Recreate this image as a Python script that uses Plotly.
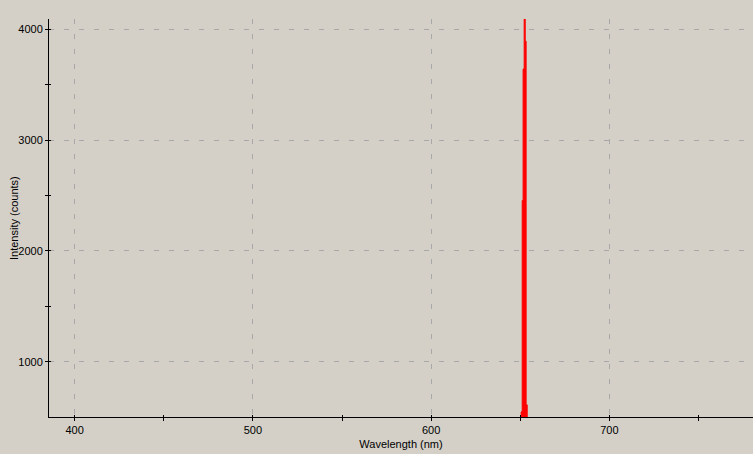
import plotly.graph_objects as go

# Data (spectrum, counts below 500 are off-scale)
wavelength_nm = [385.0, 650.5, 651.1, 651.6, 652.2, 652.8, 653.3, 653.9, 781.0]
intensity_counts = [480, 547, 2455, 3643, 4095, 3895, 610, 480, 480]

x_major_ticks = [400, 500, 600, 700]
y_major_ticks = [1000, 2000, 3000, 4000]

BG = "#d4d0c8"
GRID = "#a8a8a8"
FONT = "Liberation Sans"

fig = go.Figure()
fig.add_trace(go.Scatter(
    x=wavelength_nm, y=intensity_counts,
    mode="lines", line=dict(color="#ff0000", width=1, shape="hv"),
    fill="tozeroy", fillcolor="#ff0000", showlegend=False, hoverinfo="skip",
))
# empty trace to host the overlay axes (inner half of crossing ticks)
fig.add_trace(go.Scatter(x=[None], y=[None], xaxis="x2", yaxis="y2", showlegend=False))

xr = [385.6, 780.6]
yr = [500, 4095]

common_font = dict(family=FONT, size=11, color="black")

fig.update_layout(
    width=753, height=454,
    margin=dict(l=49, r=0, t=19, b=37),
    paper_bgcolor=BG, plot_bgcolor=BG,
    font=dict(family=FONT, size=11, color="black"),
    xaxis=dict(
        range=xr, tickvals=x_major_ticks, ticks="outside", ticklen=3, tickwidth=1,
        tickcolor="black", showline=True, linecolor="black", linewidth=1,
        showgrid=True, gridcolor=GRID, griddash="5px,10px", gridwidth=1,
        zeroline=False, tickfont=common_font,
        minor=dict(tickvals=[450, 550, 650, 750], ticks="outside", ticklen=3,
                   tickcolor="black", showgrid=False),
        title=dict(text="Wavelength (nm)", font=dict(family=FONT, size=11), standoff=5),
    ),
    yaxis=dict(
        range=yr, tickvals=y_major_ticks, ticks="outside", ticklen=3, tickwidth=1,
        tickcolor="black", showline=True, linecolor="black", linewidth=1,
        showgrid=True, gridcolor=GRID, griddash="5px,10px", gridwidth=1,
        zeroline=False, tickfont=common_font,
        minor=dict(tickvals=[1500, 2500, 3500], ticks="outside", ticklen=3,
                   tickcolor="black", showgrid=False),
    ),
    xaxis2=dict(
        range=xr, overlaying="x", anchor="y", tickvals=x_major_ticks + [450, 550, 650, 750],
        ticks="inside", ticklen=2, tickcolor="black", showticklabels=False,
        showgrid=False, zeroline=False, showline=False,
    ),
    yaxis2=dict(
        range=yr, overlaying="y", anchor="x", tickvals=y_major_ticks + [1500, 2500, 3500],
        ticks="inside", ticklen=2, tickcolor="black", showticklabels=False,
        showgrid=False, zeroline=False, showline=False,
    ),
    annotations=[dict(
        text="Intensity (counts)", textangle=-90, showarrow=False,
        xref="paper", yref="paper", x=0, y=0.5, xanchor="center", yanchor="middle",
        xshift=-35, font=dict(family=FONT, size=11, color="black"),
    )],
)

fig.write_html(
    "out.html",
    config={"displayModeBar": False},
    post_script="document.body.style.margin='0px';document.body.style.overflow='hidden';",
)
